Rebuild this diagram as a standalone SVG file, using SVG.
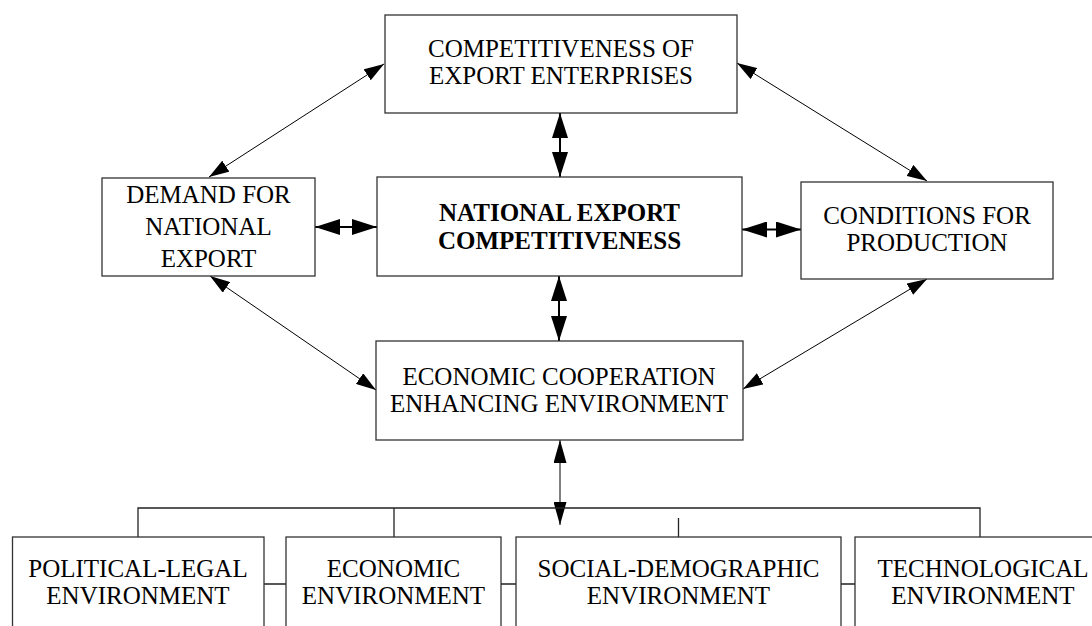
<svg xmlns="http://www.w3.org/2000/svg" width="1092" height="626" viewBox="0 0 1092 626">
<style>
.box{fill:#fff;stroke:#333;stroke-width:1.3}
.t{font-family:"Liberation Serif","Times New Roman",serif;font-size:25px;fill:#000;text-anchor:middle}
.b{font-weight:bold}
.thin{stroke:#000;stroke-width:1;fill:none}
.thick{stroke:#000;stroke-width:2;fill:none}
.bus{stroke:#222;stroke-width:1.3;fill:none}
</style>
<defs>
<marker id="big" markerUnits="userSpaceOnUse" markerWidth="25" markerHeight="16" refX="25" refY="8" orient="auto-start-reverse"><path d="M0,0 L25,8 L0,16 z" fill="#000"/></marker>
<marker id="mid" markerUnits="userSpaceOnUse" markerWidth="23" markerHeight="13" refX="23" refY="6.5" orient="auto-start-reverse"><path d="M0,0 L23,6.5 L0,13 z" fill="#000"/></marker>
<marker id="small" markerUnits="userSpaceOnUse" markerWidth="20" markerHeight="13" refX="20" refY="6.5" orient="auto-start-reverse"><path d="M0,0 L20,6.5 L0,13 z" fill="#000"/></marker>
</defs>
<g id="connectors">
<line class="thin" x1="209" y1="177" x2="384" y2="64" marker-start="url(#small)" marker-end="url(#small)"/>
<line class="thin" x1="737" y1="63" x2="927" y2="181" marker-start="url(#small)" marker-end="url(#small)"/>
<line class="thin" x1="210" y1="276" x2="376" y2="390" marker-start="url(#small)" marker-end="url(#small)"/>
<line class="thin" x1="927" y1="279" x2="743" y2="389" marker-start="url(#small)" marker-end="url(#small)"/>
<line class="thick" x1="560" y1="113" x2="560" y2="177" marker-start="url(#big)" marker-end="url(#big)"/>
<line class="thick" x1="559" y1="276" x2="559" y2="341" marker-start="url(#big)" marker-end="url(#big)"/>
<line class="thick" x1="315" y1="227" x2="377" y2="227" marker-start="url(#big)" marker-end="url(#big)"/>
<line class="thick" x1="742" y1="229.5" x2="801" y2="229.5" marker-start="url(#big)" marker-end="url(#big)"/>
<line class="thin" x1="560" y1="440" x2="560" y2="525" marker-start="url(#mid)" marker-end="url(#mid)"/>
<path class="bus" d="M138,537 V508 H980 V537 M394,508 V537 M678.5,518 V537 M264,584 H286 M501,584 H516 M841,584 H855"/>
</g>
<g id="top">
<rect class="box" x="385" y="15" width="352" height="98"/>
<text class="t" x="561" y="57">COMPETITIVENESS OF</text>
<text class="t" x="561" y="84">EXPORT ENTERPRISES</text>
</g>
<g id="demand">
<rect class="box" x="102" y="178" width="213" height="98"/>
<text class="t" x="208.5" y="203">DEMAND FOR</text>
<text class="t" x="208.5" y="235">NATIONAL</text>
<text class="t" x="208.5" y="267">EXPORT</text>
</g>
<g id="center">
<rect class="box" x="377" y="177" width="365" height="99"/>
<text class="t b" x="559.5" y="221">NATIONAL EXPORT</text>
<text class="t b" x="559.5" y="249">COMPETITIVENESS</text>
</g>
<g id="conditions">
<rect class="box" x="801" y="182" width="252" height="97"/>
<text class="t" x="927" y="224">CONDITIONS FOR</text>
<text class="t" x="927" y="251">PRODUCTION</text>
</g>
<g id="ece">
<rect class="box" x="376" y="341" width="367" height="99"/>
<text class="t" x="559" y="385">ECONOMIC COOPERATION</text>
<text class="t" x="559" y="412">ENHANCING ENVIRONMENT</text>
</g>
<g id="political">
<rect class="box" x="12.5" y="537" width="251.5" height="120"/>
<text class="t" x="138" y="577">POLITICAL-LEGAL</text>
<text class="t" x="138" y="604">ENVIRONMENT</text>
</g>
<g id="economic">
<rect class="box" x="286" y="537" width="215" height="120"/>
<text class="t" x="393.5" y="577">ECONOMIC</text>
<text class="t" x="393.5" y="604">ENVIRONMENT</text>
</g>
<g id="social">
<rect class="box" x="516" y="537" width="325" height="120"/>
<text class="t" x="678.5" y="577">SOCIAL-DEMOGRAPHIC</text>
<text class="t" x="678.5" y="604">ENVIRONMENT</text>
</g>
<g id="technological">
<rect class="box" x="855" y="537" width="260" height="120"/>
<text class="t" x="983" y="577">TECHNOLOGICAL</text>
<text class="t" x="983" y="604">ENVIRONMENT</text>
</g>
</svg>
